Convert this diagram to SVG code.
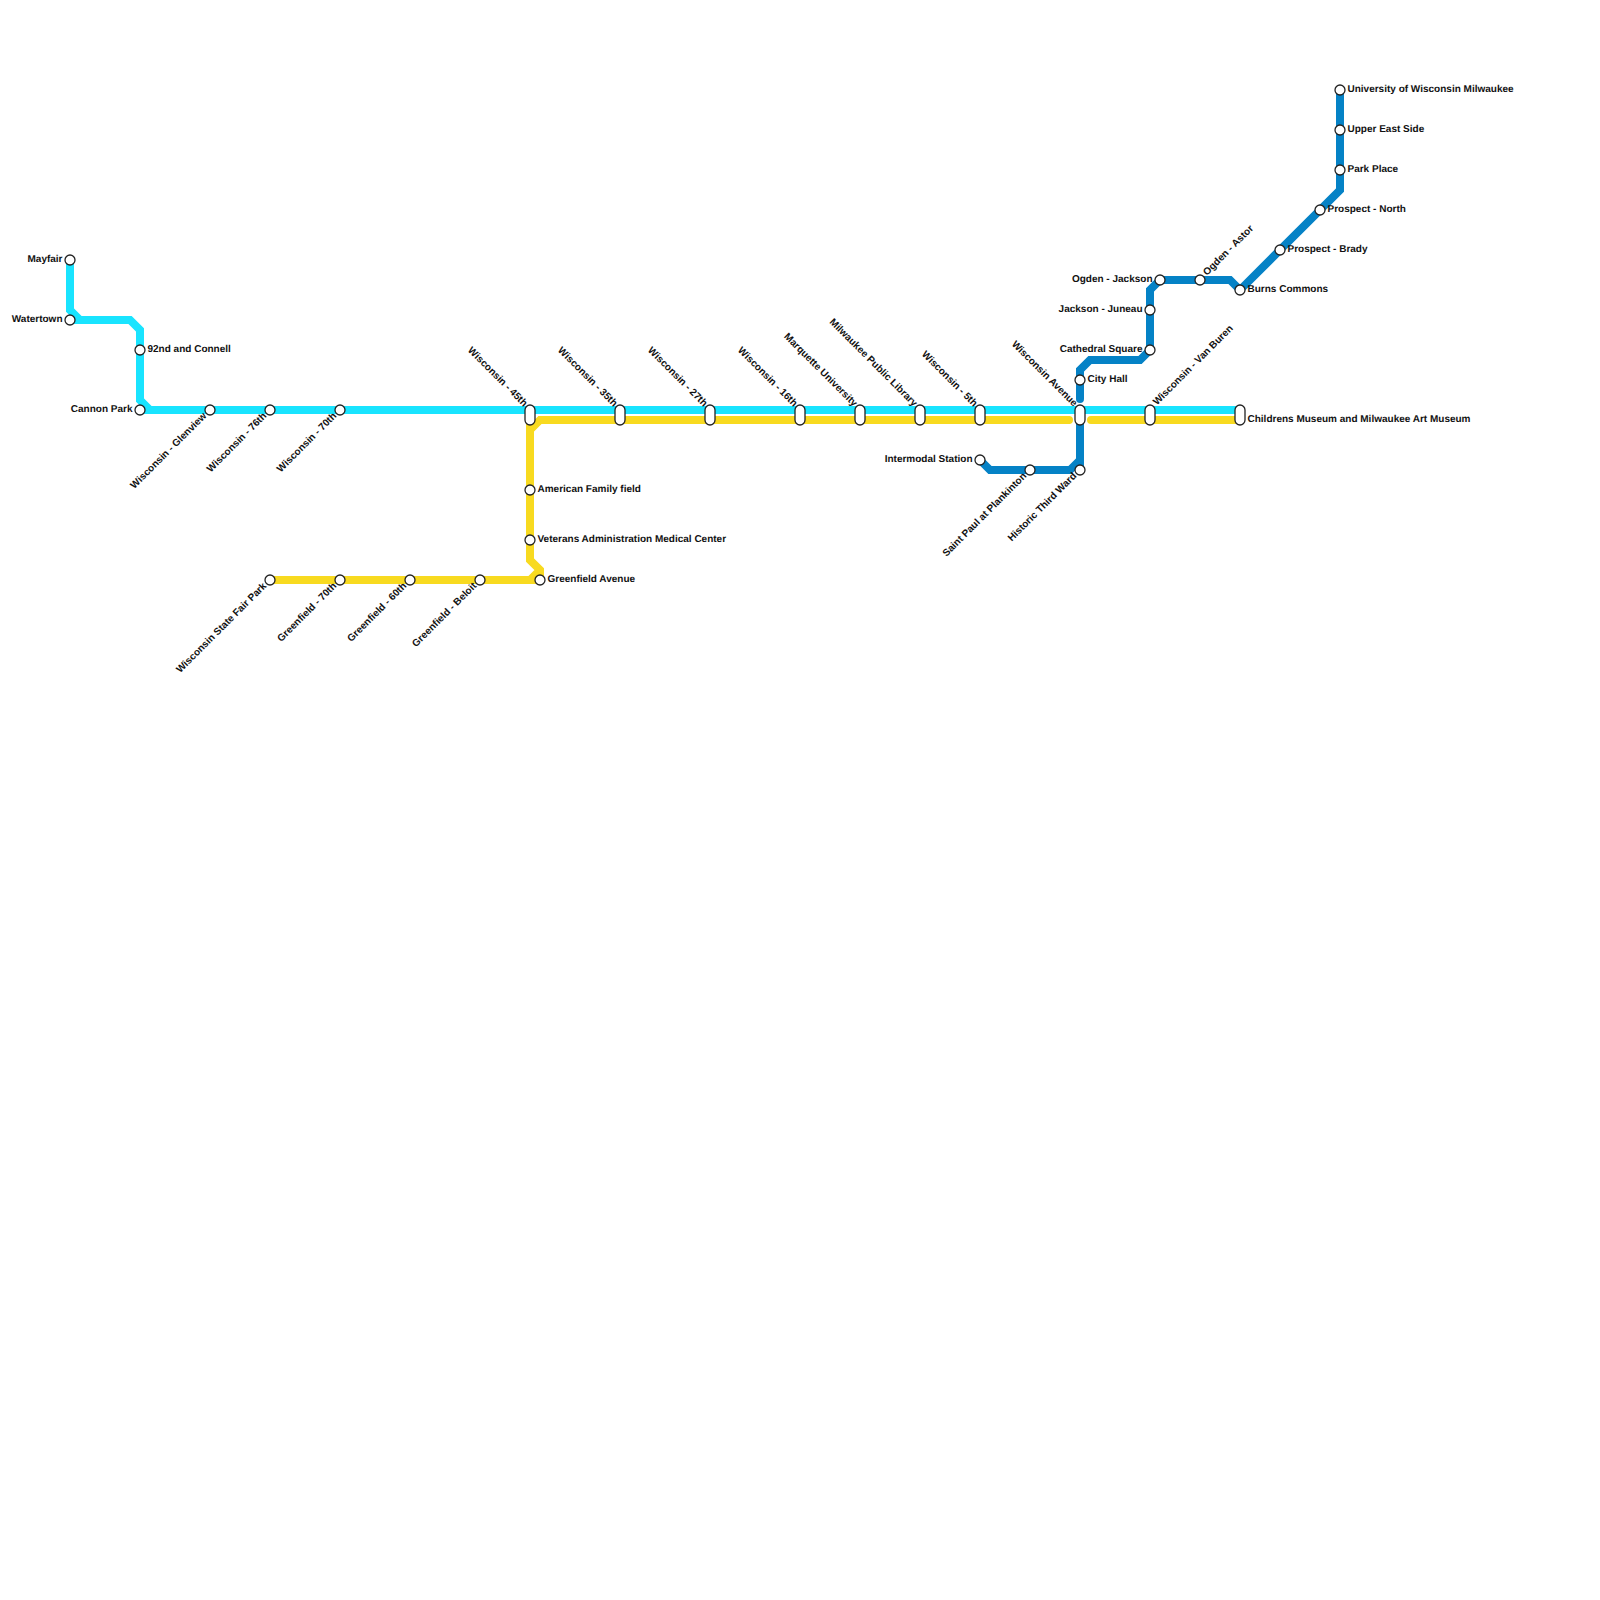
<svg xmlns="http://www.w3.org/2000/svg" width="1600" height="1600" viewBox="0 0 1600 1600">
<style>
.l{fill:none;stroke-width:8;stroke-linejoin:miter}
.c{stroke:#19e4ff}.y{stroke:#f8da20}.b{stroke:#0582c6}
.s{fill:#fff;stroke:#222;stroke-width:1.3}
text{font-family:"Liberation Sans",Arial,sans-serif;font-size:10px;font-weight:700;fill:#111;text-rendering:geometricPrecision}
.e{text-anchor:end}
</style>
<rect width="1600" height="1600" fill="#fff"/>
<g id="connectors">
<path class="l c" d="M70 260V310L80 320H130L140 330V400L150 410H1240"/>
<path class="l c" d="M70 320H80M140 410H150"/>
<path class="l y" d="M530 430L540 420H1070" stroke-linecap="butt"/>
<path class="l y" stroke-linecap="round" d="M1069 420H1060M1091 420H1240"/>
<path class="l y" d="M530 415V560L540 570V580M270 580H540M530 580L540 570"/>
<path class="l b" d="M980 460L990 470H1070L1080 460V420"/>
<path class="l b" d="M1080 470V460"/>
<path class="l b" stroke-linecap="round" d="M1080 399V370L1090 360H1140L1150 350V290L1160 280H1230L1240 290"/>
<path class="l b" d="M1242 288L1340 190V90"/>
</g>
<g id="mayfair"><circle class="s" cx="70" cy="260" r="5"/><text class="e" x="62.500" y="262">Mayfair</text></g>
<g id="watertown"><circle class="s" cx="70" cy="320" r="5"/><text class="e" x="62.500" y="322">Watertown</text></g>
<g id="connell"><circle class="s" cx="140" cy="350" r="5"/><text x="147.500" y="352">92nd and Connell</text></g>
<g id="cannon"><circle class="s" cx="140" cy="410" r="5"/><text class="e" x="132.500" y="412">Cannon Park</text></g>
<g id="glenview"><circle class="s" cx="210" cy="410" r="5"/><text class="e" transform="translate(207 416.500) rotate(-45)">Wisconsin - Glenview</text></g>
<g id="w76"><circle class="s" cx="270" cy="410" r="5"/><text class="e" transform="translate(267 416.500) rotate(-45)">Wisconsin - 76th</text></g>
<g id="w70"><circle class="s" cx="340" cy="410" r="5"/><text class="e" transform="translate(337 416.500) rotate(-45)">Wisconsin - 70th</text></g>
<g id="w45"><rect class="s" x="525" y="405" width="10" height="20" rx="5"/><text class="e" transform="translate(523.500 407) rotate(45)">Wisconsin - 45th</text></g>
<g id="w35"><rect class="s" x="615" y="405" width="10" height="20" rx="5"/><text class="e" transform="translate(613.500 407) rotate(45)">Wisconsin - 35th</text></g>
<g id="w27"><rect class="s" x="705" y="405" width="10" height="20" rx="5"/><text class="e" transform="translate(703.500 407) rotate(45)">Wisconsin - 27th</text></g>
<g id="w16"><rect class="s" x="795" y="405" width="10" height="20" rx="5"/><text class="e" transform="translate(793.500 407) rotate(45)">Wisconsin - 16th</text></g>
<g id="marquette"><rect class="s" x="855" y="405" width="10" height="20" rx="5"/><text class="e" transform="translate(853.500 407) rotate(45)">Marquette University</text></g>
<g id="library"><rect class="s" x="915" y="405" width="10" height="20" rx="5"/><text class="e" transform="translate(913.500 407) rotate(45)">Milwaukee Public Library</text></g>
<g id="w5"><rect class="s" x="975" y="405" width="10" height="20" rx="5"/><text class="e" transform="translate(973.500 407) rotate(45)">Wisconsin - 5th</text></g>
<g id="wave"><rect class="s" x="1075" y="405" width="10" height="20" rx="5"/><text class="e" transform="translate(1073.500 407) rotate(45)">Wisconsin Avenue</text></g>
<g id="vanburen"><rect class="s" x="1145" y="405" width="10" height="20" rx="5"/><text transform="translate(1157 405.500) rotate(-45)">Wisconsin - Van Buren</text></g>
<g id="museum"><rect class="s" x="1235" y="405" width="10" height="20" rx="5"/><text x="1247.500" y="422">Childrens Museum and Milwaukee Art Museum</text></g>
<g id="amfam"><circle class="s" cx="530" cy="490" r="5"/><text x="537.500" y="492">American Family field</text></g>
<g id="va"><circle class="s" cx="530" cy="540" r="5"/><text x="537.500" y="542">Veterans Administration Medical Center</text></g>
<g id="greenfieldave"><circle class="s" cx="540" cy="580" r="5"/><text x="547.500" y="582">Greenfield Avenue</text></g>
<g id="beloit"><circle class="s" cx="480" cy="580" r="5"/><text class="e" transform="translate(477 586.500) rotate(-45)">Greenfield - Beloit</text></g>
<g id="g60"><circle class="s" cx="410" cy="580" r="5"/><text class="e" transform="translate(407 586.500) rotate(-45)">Greenfield - 60th</text></g>
<g id="g70"><circle class="s" cx="340" cy="580" r="5"/><text class="e" transform="translate(337 586.500) rotate(-45)">Greenfield - 70th</text></g>
<g id="fair"><circle class="s" cx="270" cy="580" r="5"/><text class="e" transform="translate(267 586.500) rotate(-45)">Wisconsin State Fair Park</text></g>
<g id="intermodal"><circle class="s" cx="980" cy="460" r="5"/><text class="e" x="972.500" y="462">Intermodal Station</text></g>
<g id="plankinton"><circle class="s" cx="1030" cy="470" r="5"/><text class="e" transform="translate(1027 476.500) rotate(-45)">Saint Paul at Plankinton</text></g>
<g id="third"><circle class="s" cx="1080" cy="470" r="5"/><text class="e" transform="translate(1077 476.500) rotate(-45)">Historic Third Ward</text></g>
<g id="cityhall"><circle class="s" cx="1080" cy="380" r="5"/><text x="1087.500" y="382">City Hall</text></g>
<g id="cathedral"><circle class="s" cx="1150" cy="350" r="5"/><text class="e" x="1142.500" y="352">Cathedral Square</text></g>
<g id="juneau"><circle class="s" cx="1150" cy="310" r="5"/><text class="e" x="1142.500" y="312">Jackson - Juneau</text></g>
<g id="ojackson"><circle class="s" cx="1160" cy="280" r="5"/><text class="e" x="1152.500" y="282">Ogden - Jackson</text></g>
<g id="astor"><circle class="s" cx="1200" cy="280" r="5"/><text transform="translate(1207 276) rotate(-45)">Ogden - Astor</text></g>
<g id="burns"><circle class="s" cx="1240" cy="290" r="5"/><text x="1247.500" y="292">Burns Commons</text></g>
<g id="brady"><circle class="s" cx="1280" cy="250" r="5"/><text x="1287.500" y="252">Prospect - Brady</text></g>
<g id="north"><circle class="s" cx="1320" cy="210" r="5"/><text x="1327.500" y="212">Prospect - North</text></g>
<g id="park"><circle class="s" cx="1340" cy="170" r="5"/><text x="1347.500" y="172">Park Place</text></g>
<g id="upper"><circle class="s" cx="1340" cy="130" r="5"/><text x="1347.500" y="132">Upper East Side</text></g>
<g id="uwm"><circle class="s" cx="1340" cy="90" r="5"/><text x="1347.500" y="92">University of Wisconsin Milwaukee</text></g>
</svg>
